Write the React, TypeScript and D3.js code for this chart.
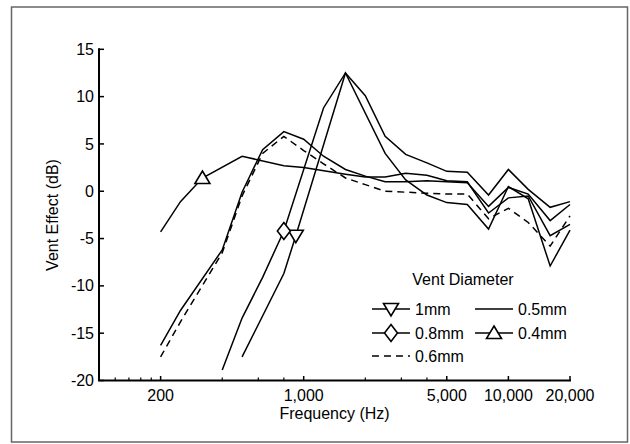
import React from 'react';
import * as d3 from 'd3';

// [frequency Hz, vent effect dB]
const vent1mm: [number, number][] = [
  [500, -17.5], [800, -8.7], [915, -4.7], [1600, 12.5], [2000, 10.1], [2500, 5.8],
  [3150, 3.9], [4000, 3.0], [5000, 2.1], [6300, 2.0], [8000, -0.4], [10000, 2.3],
  [12500, 0.2], [16000, -1.7], [20000, -1.1],
];
const vent08mm: [number, number][] = [
  [400, -18.9], [500, -13.4], [630, -9.1], [800, -4.2], [1250, 8.8], [1600, 12.5],
  [2500, 4.0], [3150, 1.2], [4000, -0.4], [5000, -1.2], [6300, -1.4], [8000, -4.0],
  [10000, 0.5], [12500, -0.8], [16000, -7.9], [20000, -4.1],
];
const vent06mm: [number, number][] = [
  [200, -17.5], [250, -13.8], [400, -6.5], [500, -0.5], [630, 4.0], [800, 5.8],
  [1000, 4.3], [1250, 2.9], [1600, 1.4], [2000, 0.7], [2500, 0.0], [3150, -0.1],
  [4000, -0.2], [5000, -0.3], [6300, -0.3], [8000, -2.9], [10000, -1.8],
  [12500, -3.3], [16000, -5.8], [20000, -2.6],
];
const vent05mm: [number, number][] = [
  [200, -16.3], [250, -12.6], [400, -6.2], [500, -0.1], [630, 4.4], [800, 6.3],
  [1000, 5.5], [1250, 3.7], [1600, 2.3], [2000, 1.6], [2500, 1.0], [3150, 1.0],
  [4000, 1.1], [5000, 1.0], [6300, 0.9], [8000, -1.6], [10000, 0.4],
  [12500, -0.3], [16000, -3.1], [20000, -1.4],
];
const vent04mm: [number, number][] = [
  [200, -4.3], [250, -1.1], [320, 1.4], [500, 3.7], [800, 2.7], [1000, 2.5],
  [1600, 1.8], [2000, 1.5], [2500, 1.5], [3150, 1.9], [4000, 1.7], [5000, 1.1],
  [6300, 1.0], [8000, -2.3], [10000, -0.7], [12500, -0.5], [16000, -4.7], [20000, -3.5],
];

const yTicks = [15, 10, 5, 0, -5, -10, -15, -20];
const xMajor = [200, 1000, 5000, 10000, 20000];
const xMinor = [120, 140, 160, 180, 400, 600, 800, 2000, 3000, 4000];

const markerPaths: Record<string, string> = {
  down: 'M-7.5,-5.5L7.5,-5.5L0,7Z',
  diamond: 'M0,-8.5L6.5,0L0,8.5L-6.5,0Z',
  up: 'M0,-7L7.5,5.5L-7.5,5.5Z',
};

const series = [
  { name: '1mm', data: vent1mm, dash: null, marker: 'down', markerIdx: 2 },
  { name: '0.8mm', data: vent08mm, dash: null, marker: 'diamond', markerIdx: 3 },
  { name: '0.6mm', data: vent06mm, dash: '7,5', marker: null, markerIdx: -1 },
  { name: '0.5mm', data: vent05mm, dash: null, marker: null, markerIdx: -1 },
  { name: '0.4mm', data: vent04mm, dash: null, marker: 'up', markerIdx: 2 },
];

const font = 'Liberation Sans, Arial, sans-serif';

export default function App() {
  const x = d3.scaleLog().domain([100, 20000]).range([99, 570]);
  const y = d3.scaleLinear().domain([-20, 15]).range([380.5, 49.3]);
  const line = d3.line<[number, number]>().x(d => x(d[0])).y(d => y(d[1]));

  const legendPos: Record<string, [number, number]> = {
    '1mm': [372, 309],
    '0.8mm': [372, 333],
    '0.6mm': [372, 356],
    '0.5mm': [475, 309],
    '0.4mm': [475, 333],
  };

  return (
    <svg width={630} height={444} style={{ position: 'absolute', left: 0, top: 0, background: '#fff' }}
      fontFamily={font}>
      <rect x={11.5} y={7} width={616} height={435} fill="#fff" stroke="#666" strokeWidth={1.5} />

      {/* curves */}
      {series.map(s => (
        <path key={s.name} d={line(s.data) || ''} fill="none" stroke="#000" strokeWidth={1.5}
          strokeDasharray={s.dash || undefined} strokeLinejoin="miter" />
      ))}
      {series.filter(s => s.marker).map(s => {
        const p = s.data[s.markerIdx];
        return (
          <path key={s.name + 'm'} d={markerPaths[s.marker as string]}
            transform={`translate(${x(p[0])},${y(p[1])})`} fill="#fff" stroke="#000" strokeWidth={1.6} />
        );
      })}

      {/* axes */}
      <line x1={99} x2={99} y1={y(15) - 1} y2={y(-20)} stroke="#000" strokeWidth={2} />
      <line x1={98} x2={571} y1={y(-20)} y2={y(-20)} stroke="#000" strokeWidth={2} />
      {yTicks.map(t => (
        <g key={t}>
          <line x1={99} x2={104} y1={y(t)} y2={y(t)} stroke="#000" strokeWidth={1.5} />
          <text x={94} y={y(t)} dy="0.35em" textAnchor="end" fontSize={16}>{t}</text>
        </g>
      ))}
      {xMajor.map(t => (
        <g key={t}>
          <line x1={x(t)} x2={x(t)} y1={y(-20)} y2={y(-20) - 4.5} stroke="#000" strokeWidth={1.5} />
          <text x={x(t)} y={401} textAnchor="middle" fontSize={16}>{d3.format(',')(t)}</text>
        </g>
      ))}
      {xMinor.map(t => (
        <line key={t} x1={x(t)} x2={x(t)} y1={y(-20)} y2={y(-20) - 3} stroke="#000" strokeWidth={1.2} />
      ))}
      <text x={334.5} y={419} textAnchor="middle" fontSize={16}>Frequency (Hz)</text>
      <text transform="translate(58,215) rotate(-90)" textAnchor="middle" fontSize={16}>Vent Effect (dB)</text>

      {/* legend */}
      <text x={463} y={285} textAnchor="middle" fontSize={16}>Vent Diameter</text>
      {series.map(s => {
        const [lx, ly] = legendPos[s.name];
        return (
          <g key={s.name + 'l'}>
            <line x1={lx} x2={lx + 38} y1={ly} y2={ly} stroke="#000" strokeWidth={1.5}
              strokeDasharray={s.dash || undefined} />
            {s.marker && (
              <path d={markerPaths[s.marker]} transform={`translate(${lx + 19},${ly})`}
                fill="#fff" stroke="#000" strokeWidth={1.6} />
            )}
            <text x={lx + 43} y={ly} dy="0.35em" fontSize={16}>{s.name}</text>
          </g>
        );
      })}
    </svg>
  );
}
